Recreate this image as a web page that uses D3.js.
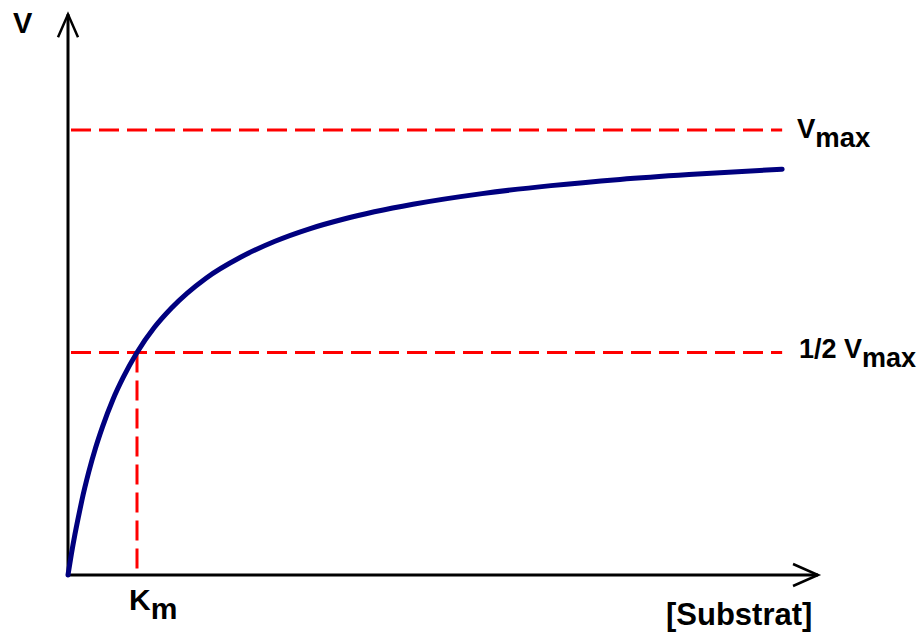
<!DOCTYPE html>
<html>
<head>
<meta charset="utf-8">
<script src="https://cdn.jsdelivr.net/npm/d3@7"></script>
<style>
  html, body { margin: 0; padding: 0; background: #fff; }
  svg { display: block; }
  text { font-family: "Liberation Sans", Arial, sans-serif; font-weight: bold; fill: #000; }
</style>
</head>
<body>
<svg id="chart" width="921" height="635"></svg>
<script>
// Substrate concentration (units of Km) and velocity (units of Vmax)
const substrate = [0, 0.05, 0.1, 0.15, 0.2, 0.3, 0.4, 0.5, 0.65, 0.8, 1, 1.25, 1.5, 2, 2.5, 3, 3.5, 4, 5, 6, 7, 8, 9, 10.35];
const velocity  = [0, 0.048, 0.091, 0.130, 0.167, 0.231, 0.286, 0.333, 0.394, 0.444, 0.5, 0.556, 0.6, 0.667, 0.714, 0.75, 0.778, 0.8, 0.833, 0.857, 0.875, 0.889, 0.9, 0.912];
const vmax = 1;
const halfVmax = 0.5;
const km = 1;
const xAxisEnd = 10.87;
const yAxisEnd = 1.26;
const curveEnd = 10.35;

const svg = d3.select("#chart");
const x = d3.scaleLinear().domain([0, 1]).range([68, 137]);
const y = d3.scaleLinear().domain([0, 1]).range([575, 130]);

// dashed guide lines
const red = "#ff0000";
function dashed(x1, y1, x2, y2) {
  svg.append("line")
    .attr("x1", x1).attr("y1", y1).attr("x2", x2).attr("y2", y2)
    .attr("stroke", red).attr("stroke-width", 3)
    .attr("stroke-dasharray", "20 8");
}
dashed(x(0) + 3, y(vmax), x(curveEnd), y(vmax));
dashed(x(0) + 3, y(halfVmax), x(curveEnd), y(halfVmax));
dashed(x(km), y(halfVmax), x(km), y(0));

// axes
const axisG = svg.append("g").attr("stroke", "#000").attr("stroke-width", 3).attr("fill", "none");
axisG.append("line").attr("x1", x(0)).attr("y1", y(0)).attr("x2", x(0)).attr("y2", y(yAxisEnd));
axisG.append("line").attr("x1", x(0)).attr("y1", y(0)).attr("x2", x(xAxisEnd)).attr("y2", y(0));
axisG.append("path").attr("stroke-width", 2.5)
  .attr("d", `M${x(0) - 10},${y(yAxisEnd) + 23} L${x(0)},${y(yAxisEnd)} L${x(0) + 10},${y(yAxisEnd) + 23}`);
axisG.append("path").attr("stroke-width", 2.5)
  .attr("d", `M${x(xAxisEnd) - 25},${y(0) - 11} L${x(xAxisEnd)},${y(0)} L${x(xAxisEnd) - 25},${y(0) + 11}`);

// curve
const pts = substrate.map((s, i) => [s, velocity[i]]);
svg.append("path")
  .datum(pts)
  .attr("fill", "none")
  .attr("stroke", "#00007f")
  .attr("stroke-width", 5)
  .attr("stroke-linecap", "round")
  .attr("d", d3.line().x(d => x(d[0])).y(d => y(d[1])).curve(d3.curveMonotoneX));

// labels
function label(tx, ty, main, sub, size) {
  const t = svg.append("text").attr("x", tx).attr("y", ty).style("font-size", size + "px");
  t.append("tspan").text(main);
  if (sub) t.append("tspan").attr("dy", 9).text(sub);
}
label(13, 33, "V", null, 29);
label(797, 138, "V", "max", 27.5);
label(799, 358, "1/2 V", "max", 27);
label(129, 610, "K", "m", 30);
label(666, 625, "[Substrat]", null, 31);
</script>
</body>
</html>
